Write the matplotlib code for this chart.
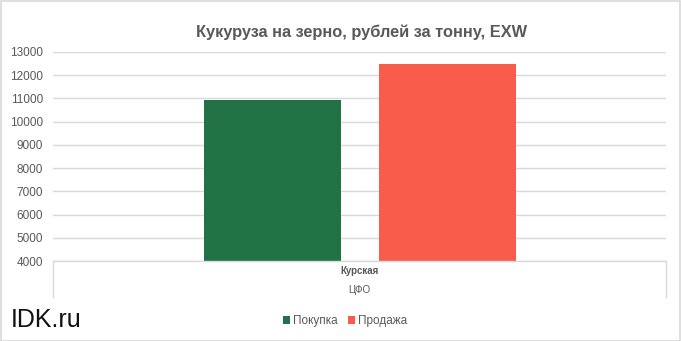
import matplotlib
matplotlib.use("Agg")
import matplotlib.pyplot as plt
from matplotlib.lines import Line2D
from matplotlib.patches import Rectangle
from matplotlib import font_manager

names = {f.name for f in font_manager.fontManager.ttflist}
NARROW = "Liberation Sans Narrow" if "Liberation Sans Narrow" in names else "Liberation Sans"
plt.rcParams['font.family'] = ['Liberation Sans', 'DejaVu Sans']

title = "Кукуруза на зерно, рублей за тонну, EXW"
region = "Курская"
district = "ЦФО"
series = ["Покупка", "Продажа"]
values = [10930, 12490]
colors = ["#217346", "#FA5C4B"]
yticks = [4000, 5000, 6000, 7000, 8000, 9000, 10000, 11000, 12000, 13000]

W, H = 681, 341
fig = plt.figure(figsize=(W / 100, H / 100), dpi=100)
fig.patch.set_facecolor("white")

L, R, T, B = 53, 666, 52, 261
ax = fig.add_axes([L / W, 1 - B / H, (R - L) / W, (B - T) / H])
ax.set_xlim(-0.5, 0.5)
ax.set_ylim(yticks[0], yticks[-1])

width = 137 / (R - L)
offset = 87.5 / (R - L)
for i, (s, v, c) in enumerate(zip(series, values, colors)):
    x = -offset if i == 0 else offset
    ax.bar(x, v - yticks[0], width=width, bottom=yticks[0], color=c, label=s, zorder=3)

ax.set_yticks(yticks)
ax.set_yticklabels([str(t) for t in yticks], fontsize=8.5, color="#595959")
ax.tick_params(axis="y", length=0, pad=7)
ax.set_xticks([])
for sp in ax.spines.values():
    sp.set_visible(False)
ax.grid(axis="y", color="#D9D9D9", linewidth=1, zorder=0)
ax.set_axisbelow(True)

col = "#D9D9D9"
def fx(px): return px / W
def fy(py): return 1 - py / H
fig.add_artist(Line2D([fx(L), fx(R)], [fy(B), fy(B)], color=col, lw=1))
fig.add_artist(Line2D([fx(L), fx(L)], [fy(B), fy(297)], color=col, lw=1))
fig.add_artist(Line2D([fx(R), fx(R)], [fy(B), fy(297)], color=col, lw=1))

fig.text(fx((L + R) / 2), fy(271), region, ha="center", va="center",
         fontsize=7, fontweight="bold", color="#595959", family=[NARROW, 'DejaVu Sans'])
fig.text(fx((L + R) / 2), fy(290), district, ha="center", va="center",
         fontsize=7, color="#595959")

fig.text(fx(362), fy(32), title, ha="center", va="center",
         fontsize=11.8, fontweight="bold", color="#595959", family=[NARROW, 'DejaVu Sans'])

fig.text(fx(11), fy(320), "IDK.ru", ha="left", va="center",
         fontsize=18, color="#111111")

leg = fig.legend(loc="center", bbox_to_anchor=(fx(345), fy(321)), ncol=2,
                 frameon=False, fontsize=8.5, handlelength=0.6, handleheight=0.6,
                 handletextpad=0.2, columnspacing=0.9, labelcolor="#595959")

fig.add_artist(Rectangle((0.5 / W, 0.5 / H), 1 - 1.5 / W, 1 - 1.5 / H,
                         transform=fig.transFigure, fill=False,
                         edgecolor="#D9D9D9", lw=1.2))

fig.savefig("out.png", dpi=100, facecolor="white")
